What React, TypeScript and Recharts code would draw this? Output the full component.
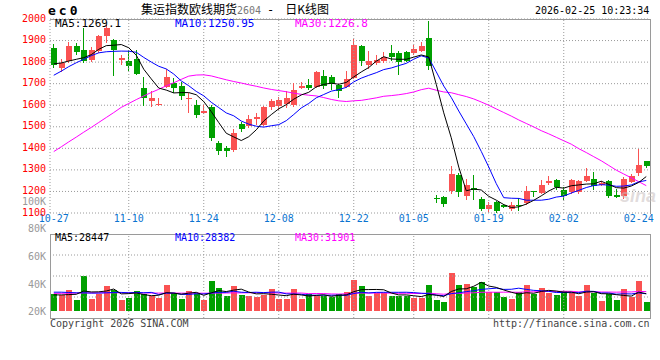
import { Bar, CartesianGrid, ComposedChart, Line, ReferenceLine, XAxis, YAxis } from 'recharts';

// trading days shown on the daily K chart
const dates = [
  '10-27', '10-28', '10-29', '10-30', '10-31', '11-03', '11-04', '11-05', '11-06', '11-07',
  '11-10', '11-11', '11-12', '11-13', '11-14', '11-17', '11-18', '11-19', '11-20', '11-21',
  '11-24', '11-25', '11-26', '11-27', '11-28', '12-01', '12-02', '12-03', '12-04', '12-05',
  '12-08', '12-09', '12-10', '12-11', '12-12', '12-15', '12-16', '12-17', '12-18', '12-19',
  '12-22', '12-23', '12-24', '12-25', '12-26', '12-29', '12-30', '12-31', '01-05', '01-06',
  '01-07', '01-08', '01-09', '01-12', '01-13', '01-14', '01-15', '01-16', '01-19', '01-20',
  '01-21', '01-22', '01-23', '01-26', '01-27', '01-28', '01-29', '01-30', '02-02', '02-03',
  '02-04', '02-05', '02-06', '02-09', '02-10', '02-11', '02-12', '02-13', '02-24', '02-25',
];

const open = [
  1865, 1772, 1803, 1877, 1857, 1810, 1850, 1919, 1903, 1811,
  1806, 1814, 1680, 1618, 1602, 1684, 1703, 1687, 1628, 1602,
  1564, 1590, 1425, 1403, 1394, 1514, 1502, 1537, 1510, 1590,
  1595, 1605, 1600, 1680, 1695, 1684, 1737, 1733, 1695, 1684,
  1726, 1873, 1788, 1796, 1803, 1840, 1842, 1845, 1842, 1852,
  1914, 1168, 1172, 1200, 1278, 1177, 1215, 1166, 1119, 1150,
  1138, 1119, 1135, 1146, 1200, 1193, 1240, 1254, 1208, 1197,
  1196, 1250, 1260, 1230, 1250, 1182, 1177, 1245, 1285, 1343,
];
const high = [
  1886, 1815, 1895, 1888, 1958, 1868, 1927, 1973, 1905, 1834,
  1857, 1857, 1733, 1664, 1635, 1769, 1726, 1710, 1657, 1625,
  1600, 1600, 1432, 1409, 1490, 1520, 1556, 1564, 1595, 1630,
  1640, 1664, 1703, 1710, 1720, 1760, 1765, 1740, 1700, 1757,
  1907, 1880, 1850, 1834, 1845, 1880, 1850, 1850, 1880, 1895,
  1993, 1185, 1180, 1318, 1285, 1260, 1276, 1176, 1150, 1155,
  1142, 1150, 1170, 1226, 1203, 1253, 1270, 1256, 1220, 1260,
  1255, 1310, 1290, 1250, 1255, 1210, 1265, 1280, 1397, 1343,
];
const low = [
  1772, 1755, 1795, 1833, 1795, 1800, 1842, 1888, 1735, 1788,
  1757, 1741, 1597, 1590, 1595, 1680, 1657, 1625, 1565, 1542,
  1560, 1435, 1370, 1360, 1384, 1475, 1494, 1510, 1505, 1580,
  1580, 1585, 1590, 1675, 1670, 1680, 1675, 1672, 1633, 1680,
  1720, 1780, 1770, 1788, 1796, 1803, 1741, 1800, 1835, 1845,
  1765, 1146, 1128, 1190, 1174, 1160, 1160, 1108, 1103, 1100,
  1123, 1110, 1110, 1135, 1175, 1190, 1228, 1207, 1162, 1190,
  1190, 1245, 1207, 1225, 1170, 1170, 1165, 1240, 1270, 1309,
];
const close = [
  1785, 1795, 1873, 1847, 1803, 1855, 1919, 1958, 1857, 1819,
  1780, 1746, 1633, 1633, 1606, 1733, 1680, 1641, 1633, 1556,
  1574, 1448, 1386, 1386, 1471, 1490, 1537, 1545, 1592, 1618,
  1625, 1633, 1672, 1690, 1680, 1752, 1690, 1700, 1664, 1722,
  1880, 1806, 1803, 1811, 1826, 1826, 1800, 1803, 1860, 1877,
  1780, 1164, 1142, 1282, 1197, 1231, 1205, 1119, 1135, 1108,
  1128, 1138, 1133, 1200, 1196, 1231, 1250, 1220, 1180, 1251,
  1250, 1270, 1226, 1240, 1177, 1175, 1260, 1273, 1324, 1320,
];

const ma5 = [
  1792, 1796, 1805, 1813, 1820.6, 1834.6, 1859.4, 1876.4, 1878.4, 1881.6,
  1866.6, 1832, 1767, 1722.2, 1679.6, 1670.2, 1657, 1658.6, 1658.6, 1648.6,
  1616.8, 1570.4, 1519.4, 1470, 1453, 1436.2, 1454, 1485.8, 1527, 1556.4,
  1583.4, 1602.6, 1628, 1647.6, 1660, 1685.4, 1696.8, 1702.4, 1697.2, 1705.6,
  1731.2, 1754.4, 1775, 1804.4, 1825.2, 1814.4, 1813.2, 1813.2, 1823, 1833.2,
  1824, 1696.8, 1564.6, 1449, 1313, 1203.2, 1211.4, 1206.8, 1177.4, 1159.6,
  1139, 1125.6, 1128.4, 1141.4, 1159, 1179.6, 1202, 1219.4, 1215.4, 1226.4,
  1230.2, 1234.2, 1235.4, 1247.4, 1232.6, 1217.6, 1215.6, 1225, 1241.8, 1269.1,
];
const ma10 = [
  1739, 1758, 1779, 1797, 1813, 1830, 1843, 1848, 1850, 1851.1,
  1850.6, 1845.7, 1821.7, 1800.3, 1780.6, 1768.4, 1744.5, 1712.8, 1690.4, 1664.1,
  1643.5, 1613.7, 1589, 1564.3, 1550.8, 1526.5, 1512.2, 1502.6, 1498.5, 1504.7,
  1509.8, 1528.3, 1556.9, 1587.3, 1608.2, 1634.4, 1649.7, 1665.2, 1672.4, 1682.8,
  1708.3, 1725.6, 1738.7, 1750.8, 1765.4, 1772.8, 1783.8, 1794.1, 1813.7, 1829.2,
  1819.2, 1755, 1688.9, 1636, 1573.1, 1513.6, 1454.1, 1385.7, 1313.2, 1236.3,
  1171.1, 1168.5, 1167.6, 1159.4, 1159.3, 1159.3, 1163.8, 1173.9, 1178.4, 1192.7,
  1204.9, 1218.1, 1227.4, 1231.4, 1229.5, 1223.9, 1224.9, 1230.2, 1244.6, 1250.95,
];
const ma30 = [
  1385, 1407, 1430, 1452, 1475, 1497, 1520, 1543, 1566, 1590,
  1608, 1626, 1643, 1659, 1674, 1690, 1704, 1720, 1735, 1740,
  1741, 1736, 1727, 1718, 1710, 1703, 1695, 1688, 1680, 1673.3,
  1668, 1662.6, 1655.9, 1650.6, 1646.5, 1643.1, 1635.5, 1626.9, 1620.4, 1617.2,
  1620.5, 1622.5, 1628.2, 1634.1, 1641.5, 1644.6, 1648.6, 1654, 1661.5, 1672.2,
  1679.1, 1669.6, 1661.5, 1658, 1648.9, 1640.3, 1629.2, 1615, 1599.8, 1582.8,
  1566.2, 1549.7, 1531.7, 1515.4, 1499.3, 1481.9, 1467.2, 1451.2, 1435.1, 1419.4,
  1398.4, 1380.5, 1361.3, 1342.3, 1320.6, 1298.9, 1280.9, 1263.3, 1245.4, 1226.8,
];

const volume = [
  28000, 26400, 34700, 18000, 58000, 19800, 27500, 41000, 34700, 18000,
  22000, 33000, 28000, 24800, 22000, 43000, 29000, 19800, 33000, 29000,
  18000, 49500, 38500, 24800, 41000, 26400, 25300, 23600, 26400, 36300,
  19800, 19800, 36300, 19800, 28000, 24800, 24800, 23600, 28000, 31800,
  51000, 41000, 24800, 29000, 29000, 24800, 24800, 24800, 22000, 22000,
  43000, 18000, 14300, 63000, 43000, 44500, 39000, 47000, 32000, 32000,
  23600, 19800, 32000, 43000, 27500, 38500, 29000, 26400, 33000, 29000,
  24800, 43000, 29000, 16500, 28000, 18000, 36300, 23600, 49500, 14800,
];
const volMa5 = [
  26500, 26500, 27000, 27500, 33000, 31400, 31600, 32900, 36200, 28200,
  28600, 29700, 27100, 25200, 26000, 30200, 29400, 27700, 29400, 30800,
  25800, 29900, 33600, 32000, 34400, 36000, 31200, 28200, 28500, 27600,
  26300, 25200, 27700, 26400, 24700, 25700, 26700, 24200, 25800, 26600,
  31800, 35100, 35300, 35500, 35000, 29700, 26500, 26500, 25100, 23700,
  27300, 26000, 23900, 32100, 36300, 36600, 40800, 47300, 41100, 38900,
  34700, 30900, 27900, 30100, 29200, 32200, 34000, 32900, 30900, 31200,
  28400, 31200, 31800, 28500, 28300, 26900, 25600, 24500, 31100, 28447,
];
const volMa10 = [
  31000, 31000, 30500, 30000, 30000, 29500, 29500, 30000, 30500, 30600,
  30000, 30700, 30000, 30700, 27100, 29400, 29600, 27400, 27300, 28400,
  28000, 29600, 30700, 30700, 32600, 30900, 30500, 30900, 30300, 31000,
  31200, 28200, 28000, 27500, 26200, 26000, 26000, 26000, 26100, 25700,
  28800, 30900, 29800, 30700, 30800, 30800, 30800, 30900, 30300, 29300,
  28500, 26200, 25200, 28600, 30000, 31900, 33400, 35600, 36600, 37600,
  35600, 35800, 37600, 35600, 34000, 33400, 32400, 30400, 30500, 30200,
  30300, 32600, 32300, 29700, 29700, 27700, 28400, 28100, 29800, 28382,
];
const volMa30 = [
  29000, 29200, 29300, 29500, 29700, 29800, 29900, 30000, 30000, 30000,
  29900, 29800, 29700, 29600, 29500, 29500, 29500, 29400, 29400, 29400,
  29300, 29400, 29500, 29600, 29800, 29900, 30000, 30000, 30000, 30000,
  29700, 29500, 29500, 29600, 28600, 28800, 28700, 28100, 27900, 28300,
  29300, 29600, 29500, 29600, 29800, 29200, 29100, 29300, 28900, 28700,
  29500, 28400, 27600, 28900, 29000, 29600, 30000, 30800, 31000, 30900,
  31000, 31000, 30800, 31600, 31600, 32100, 32200, 32300, 32500, 32400,
  31500, 31600, 31700, 31300, 31200, 31000, 31400, 31400, 32300, 31901,
];

const priceTicks = [1100, 1200, 1300, 1400, 1500, 1600, 1700, 1800, 1900, 2000];
const volTicks = [20000, 40000, 60000, 80000, 100000];
const dateTicks = ['10-27', '11-10', '11-24', '12-08', '12-22', '01-05', '01-19', '02-02', '02-24'];
const gridDates = dateTicks.slice(1, -1);

const UP = '#fa5252';
const DOWN = '#00a000';
const GRID = '#9a9a9a';
const MONO = '"DejaVu Sans Mono", monospace';

const rows = dates.map((date, i) => ({
  date,
  open: open[i],
  high: high[i],
  low: low[i],
  close: close[i],
  vol: volume[i],
  ma5: ma5[i],
  ma10: ma10[i],
  ma30: ma30[i],
  vma5: volMa5[i],
  vma10: volMa10[i],
  vma30: volMa30[i],
}));

const last = rows.length - 1;

function Candle(props: any) {
  const { x, y, width, height, payload } = props;
  if (x == null || !payload) return null;
  const color = payload.close >= payload.open ? UP : DOWN;
  const top = Math.min(y, y + height);
  const h = Math.abs(height);
  const span = payload.high - payload.low;
  const py = (p: number) => top + (span > 0 ? ((payload.high - p) / span) * h : 0);
  const left = Math.round(x);
  const w = Math.round(width);
  const mid = left + Math.floor((w - 1) / 2);
  const wickTop = Math.round(top);
  const wickBot = Math.round(top + h);
  const bodyTop = Math.round(py(Math.max(payload.open, payload.close)));
  const bodyBot = Math.round(py(Math.min(payload.open, payload.close)));
  return (
    <g>
      <rect x={mid} y={wickTop} width={1} height={Math.max(1, wickBot - wickTop)} fill={color} />
      <rect x={left} y={bodyTop} width={w} height={Math.max(1, bodyBot - bodyTop)} fill={color} />
    </g>
  );
}

function VolBar(props: any) {
  const { x, y, width, height, payload } = props;
  if (x == null || !payload) return null;
  const color = payload.close >= payload.open ? UP : DOWN;
  const top = Math.round(Math.min(y, y + height));
  const bot = Math.round(Math.max(y, y + height));
  return <rect x={Math.round(x)} y={top} width={Math.round(width)} height={Math.max(1, bot - top)} fill={color} />;
}

const txt = (extra: any) => ({
  position: 'absolute' as const,
  whiteSpace: 'pre' as const,
  fontFamily: MONO,
  ...extra,
});

export default function App() {
  return (
    <div style={{ position: 'absolute', left: 0, top: 0, width: 660, height: 360, background: '#fff', overflow: 'hidden' }}>
      <div style={{ position: 'absolute', left: 0, top: 0 }}>
        <ComposedChart width={660} height={225} data={rows} margin={{ top: 19, right: 10, bottom: 0, left: 0 }} barSize={6}>
          <CartesianGrid horizontal vertical={false} stroke={GRID} strokeDasharray="1 2" />
          <XAxis
            dataKey="date"
            ticks={dateTicks}
            interval={0}
            height={12}
            tickLine={false}
            axisLine={false}
            tickSize={0}
            tickMargin={2}
            tick={{ fill: '#0a74d0', fontSize: 10, fontFamily: MONO }}
          />
          <YAxis
            domain={[1100, 2000]}
            ticks={priceTicks}
            interval={0}
            allowDataOverflow
            width={50}
            tickLine={false}
            axisLine={false}
            tickSize={0}
            tickMargin={4}
            tick={{ fill: '#ff0000', fontSize: 10, fontFamily: MONO, dy: -1 }}
          />
          <ReferenceLine x={dates[0]} position="start" stroke={GRID} strokeDasharray="1 2" />
          {gridDates.map((d) => (
            <ReferenceLine key={d} x={d} stroke={GRID} strokeDasharray="1 2" />
          ))}
          <Bar dataKey={(d: any) => [d.low, d.high]} shape={Candle} isAnimationActive={false} />
          <Line dataKey="ma30" stroke="#ff00ff" strokeWidth={1} dot={false} activeDot={false} isAnimationActive={false} />
          <Line dataKey="ma10" stroke="#0000ff" strokeWidth={1} dot={false} activeDot={false} isAnimationActive={false} />
          <Line dataKey="ma5" stroke="#000000" strokeWidth={1} dot={false} activeDot={false} isAnimationActive={false} />
        </ComposedChart>
      </div>

      <div style={{ position: 'absolute', left: 0, top: 190 }}>
        <ComposedChart width={660} height={140} data={rows} margin={{ top: 44, right: 10, bottom: 12, left: 0 }} barSize={6}>
          <XAxis dataKey="date" hide />
          <YAxis
            yAxisId="lbl"
            domain={[15350, 76180]}
            ticks={volTicks}
            interval={0}
            allowDataOverflow
            width={50}
            tickLine={false}
            axisLine={false}
            tickSize={0}
            tickMargin={4}
            tickFormatter={(v: number) => `${v / 1000}K`}
            tick={{ fill: '#999999', fontSize: 10, fontFamily: MONO }}
          />
          <YAxis yAxisId="vol" hide width={0} domain={[-11600, 127000]} allowDataOverflow />
          <YAxis yAxisId="grid" hide width={0} domain={[0, 4]} allowDataOverflow />
          {[1, 2, 3].map((g) => (
            <ReferenceLine key={g} yAxisId="grid" y={g} stroke={GRID} strokeDasharray="1 2" />
          ))}
          {gridDates.map((d) => (
            <ReferenceLine key={d} yAxisId="vol" x={d} stroke={GRID} strokeDasharray="1 2" />
          ))}
          <Bar yAxisId="vol" dataKey="vol" shape={VolBar} isAnimationActive={false} />
          <Line yAxisId="vol" dataKey="vma30" stroke="#ff00ff" strokeWidth={1} dot={false} activeDot={false} isAnimationActive={false} />
          <Line yAxisId="vol" dataKey="vma10" stroke="#0000ff" strokeWidth={1} dot={false} activeDot={false} isAnimationActive={false} />
          <Line yAxisId="vol" dataKey="vma5" stroke="#000000" strokeWidth={1} dot={false} activeDot={false} isAnimationActive={false} />
        </ComposedChart>
      </div>

      {/* panel frames */}
      <div style={{ position: 'absolute', left: 50, top: 19, width: 601, height: 1, background: GRID }} />
      <div style={{ position: 'absolute', left: 650, top: 19, width: 1, height: 195, background: GRID }} />
      <div style={{ position: 'absolute', left: 50, top: 234, width: 601, height: 85, border: `1px solid ${GRID}`, boxSizing: 'border-box' }} />

      <div style={txt({ left: 620, top: 186, fontFamily: '"Liberation Sans", sans-serif', fontSize: 18, fontWeight: 700, fontStyle: 'italic', color: 'rgba(200,190,190,0.55)' })}>sina</div>

      <div style={txt({ left: 48, top: 3, fontSize: 13, fontWeight: 700, letterSpacing: 3, lineHeight: '16px', color: '#000' })}>ec0</div>
      <div style={txt({ left: 141, top: 2, fontSize: 12, lineHeight: '14px', fontFamily: '"Noto Sans CJK SC", sans-serif', color: '#000' })}>
        集运指数欧线期货
        <span style={{ color: '#777', fontFamily: MONO, fontSize: 10 }}>2604</span>
        <span style={{ fontFamily: MONO, margin: '0 11px 0 6px' }}>-</span>
        日K线图
      </div>
      <div style={txt({ left: 535, top: 5, fontSize: 10, lineHeight: '12px', color: '#000' })}>2026-02-25 10:23:34</div>

      <div style={txt({ left: 55, top: 17, fontSize: 11, lineHeight: '13px', color: '#000' })}>{`MA5:${ma5[last]}`}</div>
      <div style={txt({ left: 175, top: 17, fontSize: 11, lineHeight: '13px', color: '#0000ff' })}>{`MA10:${ma10[last]}`}</div>
      <div style={txt({ left: 295, top: 17, fontSize: 11, lineHeight: '13px', color: '#ff00ff' })}>{`MA30:${ma30[last]}`}</div>

      <div style={txt({ left: 55, top: 232, fontSize: 10, lineHeight: '12px', color: '#000' })}>{`MA5:${volMa5[last]}`}</div>
      <div style={txt({ left: 175, top: 232, fontSize: 10, lineHeight: '12px', color: '#0000ff' })}>{`MA10:${volMa10[last]}`}</div>
      <div style={txt({ left: 295, top: 232, fontSize: 10, lineHeight: '12px', color: '#ff00ff' })}>{`MA30:${volMa30[last]}`}</div>

      <div style={txt({ left: 50, top: 318, fontSize: 10, lineHeight: '12px', color: '#444' })}>Copyright 2026 SINA.COM</div>
      <div style={txt({ left: 493, top: 318, fontSize: 10, lineHeight: '12px', color: '#444' })}>http://finance.sina.com.cn</div>
    </div>
  );
}
